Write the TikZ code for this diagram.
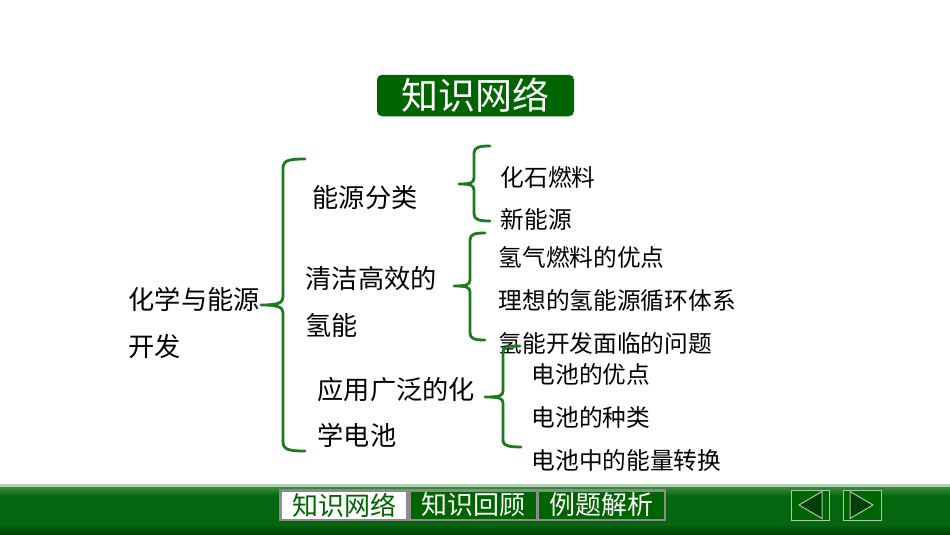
\documentclass[tikz,border=0pt]{standalone}
\usepackage{fontspec}
\setmainfont{Noto Sans CJK SC}
\definecolor{dg}{HTML}{006400}
\definecolor{br}{HTML}{1E7A1E}
\definecolor{barmid}{HTML}{05660F}
\definecolor{bardark}{HTML}{003F08}
\definecolor{barlight}{HTML}{3F9042}
\tikzset{
 bracepath/.style={draw=br,line width=2.8pt,line cap=round,line join=round},
 big/.style={inner sep=0pt,anchor=west,font=\fontsize{26.2pt}{26.2pt}\selectfont,text=black},
 small/.style={inner sep=0pt,anchor=west,font=\fontsize{23.7pt}{23.7pt}\selectfont,text=black},
 tab/.style={inner sep=0pt,minimum width=125pt,minimum height=27pt,font=\fontsize{26pt}{26pt}\selectfont,text=white,fill=dg},
 navbtn/.style={draw=white!65!dg,fill=dg,line width=1pt,minimum width=38pt,minimum height=30pt,inner sep=0pt},
 navtri/.style={draw=white!65!dg,fill=bardark,line width=1pt,line join=miter}
}
\begin{document}
\begin{tikzpicture}[x=1pt,y=-1pt]
\useasboundingbox (0,0) rectangle (950,535);
\fill[white] (0,0) rectangle (950,535);
% title
\node[fill=dg,rounded corners=5pt,minimum width=197pt,minimum height=41.5pt,inner sep=0pt,text=white,font=\fontsize{37pt}{37pt}\selectfont] (title) at (475.5,95.5) {知识网络};
% texts
\node[big] (root1) at (128.5,299.3) {化学与能源};
\node[big] (root2) at (128.5,346.3) {开发};
\node[big] (a) at (312.5,197.3) {能源分类};
\node[big] (b1) at (305.5,278.3) {清洁高效的};
\node[big] (b2) at (305.5,325.3) {氢能};
\node[big] (c1) at (317.5,389.3) {应用广泛的化};
\node[big] (c2) at (317.5,435.3) {学电池};
\node[small] (a1) at (500.5,177.3) {化石燃料};
\node[small] (a2) at (500.5,219.3) {新能源};
\node[small] (b3) at (498.5,257.3) {氢气燃料的优点};
\node[small] (b4) at (498.5,300.3) {理想的氢能源循环体系};
\node[small] (b5) at (498.5,343.3) {氢能开发面临的问题};
\node[small] (c3) at (531.5,374.3) {电池的优点};
\node[small] (c4) at (531.5,417.3) {电池的种类};
\node[small] (c5) at (531.5,460.3) {电池中的能量转换};
% braces
\draw[bracepath] (305,159) .. controls (290,159) and (283,160) .. (283,168) -- (283,297) .. controls (283,303) and (278,305) .. (261,305) .. controls (278,305) and (283,307) .. (283,313) -- (283,442) .. controls (283,450) and (290,451) .. (305,451);
\draw[bracepath] (490,146) .. controls (480,146) and (474,147) .. (474,153) -- (474,178) .. controls (474,183) and (470,184) .. (459,184) .. controls (470,184) and (474,185) .. (474,190) -- (474,214) .. controls (474,220) and (480,221) .. (490,221);
\draw[bracepath] (485,233) .. controls (475,233) and (470,234) .. (470,240) -- (470,280) .. controls (470,285) and (466,286) .. (454,286) .. controls (466,286) and (470,287) .. (470,292) -- (470,333) .. controls (470,339) and (475,340) .. (485,340);
\draw[bracepath] (520,346) .. controls (510,346) and (503,346) .. (503,352) -- (503,391) .. controls (503,396) and (499,397) .. (485,397) .. controls (499,397) and (503,398) .. (503,403) -- (503,441) .. controls (503,446) and (510,447) .. (521,447);
% footer
\fill[barmid] (0,495) rectangle (950,525);
\shade[top color=barlight,bottom color=barmid] (0,486) rectangle (950,496);
\shade[top color=barmid,bottom color=bardark] (0,524) rectangle (950,535);
\fill[white!70!dg] (0,484) rectangle (950,487);
\node[fill=white!55!black,minimum width=387pt,minimum height=32pt,inner sep=0pt] (tabs) at (472.5,504.5) {};
\node[tab,fill=white,text=dg,minimum width=124pt] (t1) at (344,505) {知识网络};
\node[tab] (t2) at (473,505) {知识回顾};
\node[tab,minimum width=125pt] (t3) at (601,505) {例题解析};
\node[navbtn] (prev) at (810,505) {};
\node[navbtn] (next) at (862,505) {};
\draw[navtri] (822,491.5) -- (799,505) -- (822,518.5) -- cycle;
\draw[navtri] (850,491.5) -- (873,505) -- (850,518.5) -- cycle;
\end{tikzpicture}
\end{document}
